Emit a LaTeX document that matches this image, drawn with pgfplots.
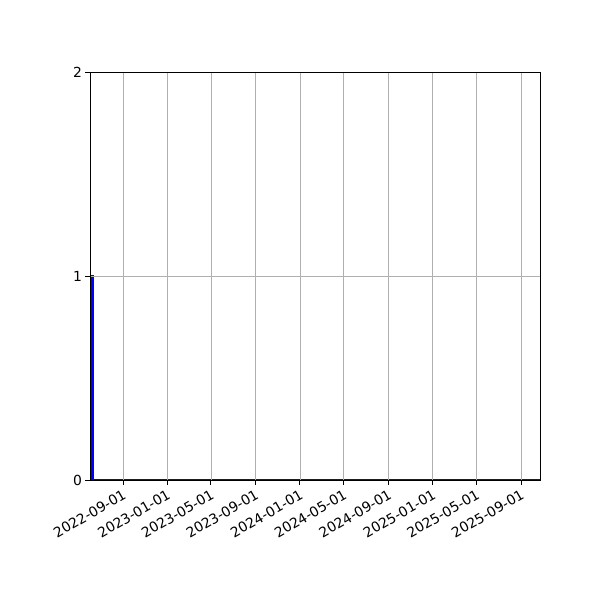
\documentclass[border=0pt]{standalone}
\usepackage{pgfplots}
\pgfplotsset{compat=1.18}
\usepackage{fontspec}
\setmainfont{DejaVu Sans}
\begin{document}
\begin{tikzpicture}[font=\fontsize{10}{12}\selectfont]
\path (0pt,0pt) rectangle (432pt,432pt);
% days counted from 2022-09-01
\begin{axis}[at={(64.8pt,86.4pt)}, anchor=south west, scale only axis,
  width=324pt, height=293.76pt,
  xmin=-91, xmax=1148, ymin=0, ymax=2,
  xtick={0,122,242,365,487,608,731,853,973,1096},
  xticklabels={2022-09-01,2023-01-01,2023-05-01,2023-09-01,2024-01-01,2024-05-01,2024-09-01,2025-01-01,2025-05-01,2025-09-01},
  ytick={0,1,2},
  xticklabel style={rotate=30, anchor=north east, inner sep=2pt},
  yticklabel style={inner sep=2pt},
  tick align=outside, tick pos=left,
  major tick length=3.5pt,
  every tick/.style={black, line width=0.7pt},
  grid=major, grid style={color=black!31, line width=0.6pt},
  axis line style={line width=0.7pt},
  axis on top,
  /pgf/number format/assume math mode=true,
  clip=false]
\addplot[blue, line width=1.5pt, const plot] coordinates {
(-86,0) (-86,1) (-82,1) (-82,0) (1148,0)};
\end{axis}
\end{tikzpicture}
\end{document}
